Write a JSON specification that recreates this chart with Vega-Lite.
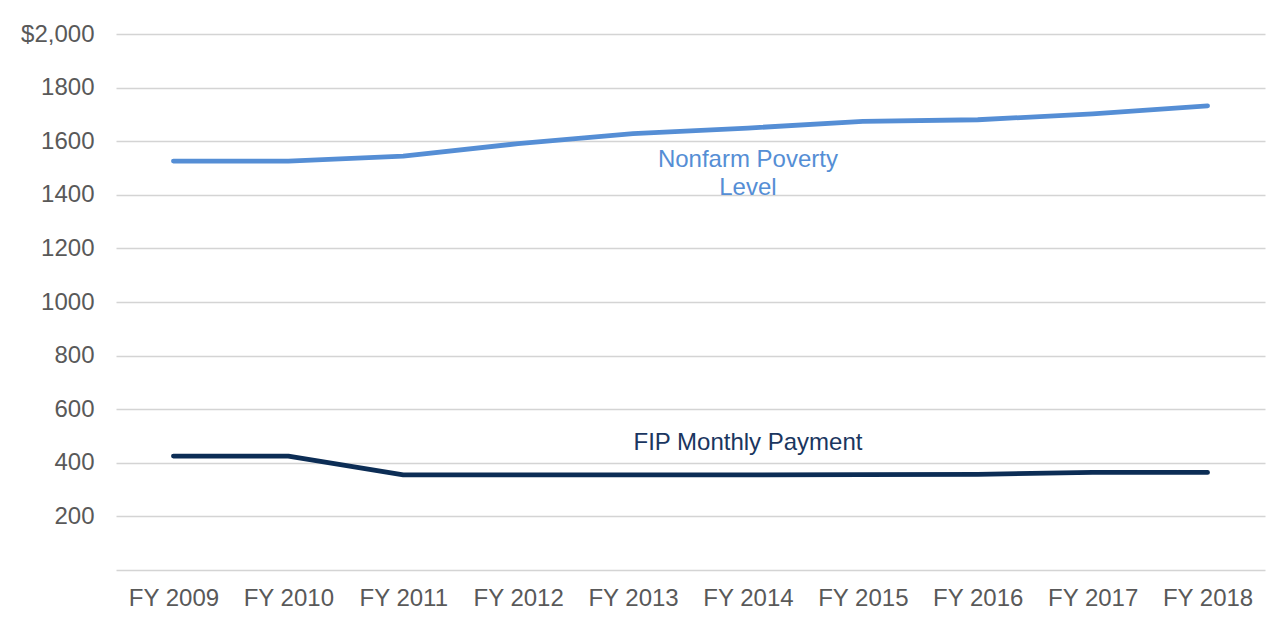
{
  "$schema": "https://vega.github.io/schema/vega-lite/v6.json",
  "width": 1149,
  "height": 536,
  "autosize": {"type": "none"},
  "padding": {"left": 116, "top": 34, "right": 22, "bottom": 56},
  "background": "white",
  "config": {
    "view": {"stroke": null},
    "font": "Liberation Sans",
    "axis": {"labelFont": "Liberation Sans", "labelFontSize": 24, "labelColor": "#595959"}
  },
  "data": {
    "values": [
      {"year": "FY 2009", "series": "Nonfarm Poverty Level", "value": 1526},
      {"year": "FY 2010", "series": "Nonfarm Poverty Level", "value": 1526},
      {"year": "FY 2011", "series": "Nonfarm Poverty Level", "value": 1544},
      {"year": "FY 2012", "series": "Nonfarm Poverty Level", "value": 1591},
      {"year": "FY 2013", "series": "Nonfarm Poverty Level", "value": 1628},
      {"year": "FY 2014", "series": "Nonfarm Poverty Level", "value": 1649},
      {"year": "FY 2015", "series": "Nonfarm Poverty Level", "value": 1674},
      {"year": "FY 2016", "series": "Nonfarm Poverty Level", "value": 1680},
      {"year": "FY 2017", "series": "Nonfarm Poverty Level", "value": 1702},
      {"year": "FY 2018", "series": "Nonfarm Poverty Level", "value": 1732},
      {"year": "FY 2009", "series": "FIP Monthly Payment", "value": 425},
      {"year": "FY 2010", "series": "FIP Monthly Payment", "value": 425},
      {"year": "FY 2011", "series": "FIP Monthly Payment", "value": 355},
      {"year": "FY 2012", "series": "FIP Monthly Payment", "value": 355},
      {"year": "FY 2013", "series": "FIP Monthly Payment", "value": 355},
      {"year": "FY 2014", "series": "FIP Monthly Payment", "value": 355},
      {"year": "FY 2015", "series": "FIP Monthly Payment", "value": 356},
      {"year": "FY 2016", "series": "FIP Monthly Payment", "value": 357},
      {"year": "FY 2017", "series": "FIP Monthly Payment", "value": 364},
      {"year": "FY 2018", "series": "FIP Monthly Payment", "value": 364}
    ]
  },
  "layer": [
    {
      "mark": {"type": "line", "strokeWidth": 4.8, "strokeCap": "round", "strokeJoin": "round"},
      "encoding": {
        "x": {
          "field": "year", "type": "ordinal", "sort": null,
          "scale": {"type": "point", "padding": 0.5},
          "axis": {"title": null, "labelAngle": 0, "domain": false, "ticks": false, "grid": false, "labelPadding": 16}
        },
        "y": {
          "field": "value", "type": "quantitative",
          "scale": {"domain": [0, 2000], "nice": false},
          "axis": {
            "title": null, "values": [0, 200, 400, 600, 800, 1000, 1200, 1400, 1600, 1800, 2000],
            "labelExpr": "datum.value == 0 ? '' : (datum.value == 2000 ? '$2,000' : '' + datum.value)",
            "domain": false, "ticks": false, "gridColor": "#d4d4d4", "gridWidth": 1.5, "labelPadding": 22
          }
        },
        "color": {
          "field": "series", "type": "nominal",
          "scale": {"domain": ["Nonfarm Poverty Level", "FIP Monthly Payment"], "range": ["#558ed5", "#0c2d55"]},
          "legend": null
        }
      }
    },
    {
      "data": {"values": [{}]},
      "mark": {"type": "text", "fontSize": 24, "color": "#558ed5", "align": "center", "baseline": "middle"},
      "encoding": {"x": {"datum": "FY 2014"}, "y": {"datum": 1529}, "text": {"value": "Nonfarm Poverty"}}
    },
    {
      "data": {"values": [{}]},
      "mark": {"type": "text", "fontSize": 24, "color": "#558ed5", "align": "center", "baseline": "middle"},
      "encoding": {"x": {"datum": "FY 2014"}, "y": {"datum": 1425}, "text": {"value": "Level"}}
    },
    {
      "data": {"values": [{}]},
      "mark": {"type": "text", "fontSize": 24, "color": "#1a3660", "align": "center", "baseline": "middle"},
      "encoding": {"x": {"datum": "FY 2014"}, "y": {"datum": 474}, "text": {"value": "FIP Monthly Payment"}}
    }
  ]
}
